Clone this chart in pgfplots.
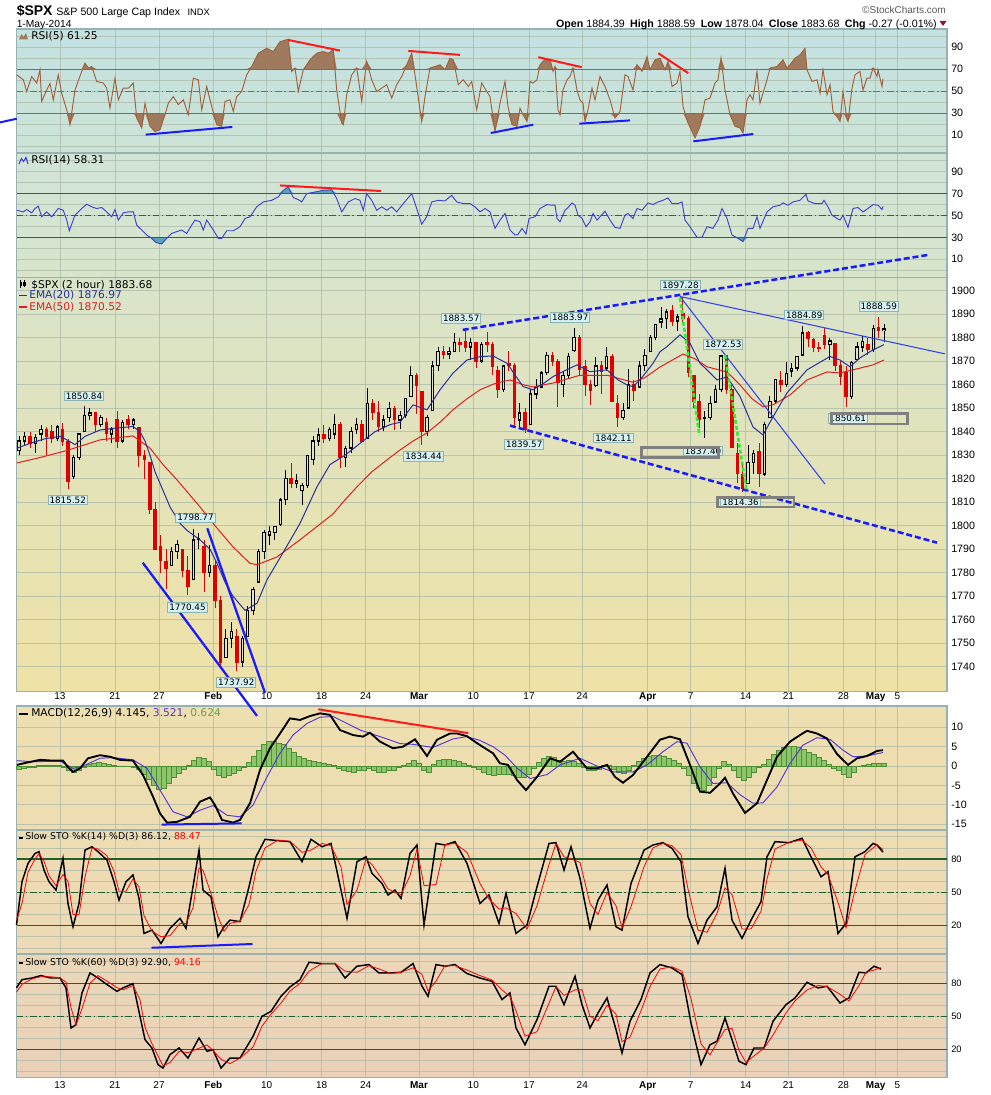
\documentclass[border=0pt]{standalone}
\usepackage{fontspec}
\setmainfont{Liberation Sans}
\newfontfamily\vf{DejaVu Sans}
\usepackage{pgfplots}
\usepackage{pgfplotstable}
\pgfplotsset{compat=1.18}

\definecolor{bordc}{HTML}{9AB1B1}
\definecolor{gridc}{HTML}{A9B8A6}
\definecolor{bgA1}{HTML}{C3E2E2}
\definecolor{bgA2}{HTML}{CDE3D6}
\definecolor{bgB1}{HTML}{D0E4D8}
\definecolor{bgB2}{HTML}{D8E5CB}
\definecolor{bgC1}{HTML}{D9E4CA}
\definecolor{bgC2}{HTML}{EFE2A6}
\definecolor{bgD1}{HTML}{EEDFB0}
\definecolor{bgD2}{HTML}{EDDDB1}
\definecolor{bgE1}{HTML}{EEDCB3}
\definecolor{bgE2}{HTML}{EDD9B5}
\definecolor{bgF1}{HTML}{ECD7B8}
\definecolor{bgF2}{HTML}{EAD1B8}
\definecolor{hollowc}{HTML}{E4E3BC}
\definecolor{rsibrown}{HTML}{A0603C}
\definecolor{rsifill}{HTML}{A07A5C}
\definecolor{rsiblue}{HTML}{4040D0}
\definecolor{rsi14fill}{HTML}{5AA5B5}
\definecolor{candlered}{HTML}{E00000}
\definecolor{ema20}{HTML}{2A2F9A}
\definecolor{ema50}{HTML}{E02020}
\definecolor{macdsig}{HTML}{5533DD}
\definecolor{histfill}{HTML}{8CC56A}
\definecolor{histline}{HTML}{4E8F35}
\definecolor{stogreen}{HTML}{1F5F2A}
\definecolor{annred}{HTML}{FF1A1A}
\definecolor{annblue}{HTML}{1A1AFF}
\definecolor{thinblue}{HTML}{3344EE}
\definecolor{labfill}{HTML}{D5F1F1}
\definecolor{labdraw}{HTML}{8AB3B3}
\definecolor{rectgray}{HTML}{7F7F7F}
\definecolor{dashgreen}{HTML}{33EE33}
\definecolor{chgc}{HTML}{8B1A3A}

\newcommand\tickf{\fontsize{8}{9}\selectfont}
\newcommand\datef{\fontsize{7.5}{9}\selectfont}
\newcommand\labf{\vf\fontsize{8}{9}\selectfont}
\newcommand\stof{\vf\fontsize{7}{8}\selectfont}

\tikzset{lab/.style={fill=labfill, draw=labdraw, line width=0.6pt, font=\vf\fontsize{6.6}{7}\selectfont, inner sep=1.1pt}}

\pgfplotsset{
  /pgf/number format/1000 sep={},
  /pgf/number format/assume math mode=true,
  panel/.style={
    scale only axis, width=697.875pt, anchor=north west,
    xmin=16.5, xmax=947,
    axis line style={draw=bordc, line width=1pt},
    xtick={60,115,159,213.3,266.7,321.7,365.7,419,473.3,529,582.3,647.7,690.7,745.7,788.3,843.3,875.7,897.3},
    xticklabels={},
    xmajorgrids, ymajorgrids, yminorgrids,
    grid style={draw=gridc, line width=0.55pt, opacity=0.7},
    minor grid style={draw=gridc, line width=0.55pt, opacity=0.7},
    major tick length=0pt, minor tick length=0pt,
    yticklabel pos=right,
    yticklabel style={font=\tickf, anchor=west, inner sep=1pt, xshift=2pt},
    clip=false,
  },
  datelabels/.style={
    xticklabels={13,21,27,\textbf{Feb},10,18,24,\textbf{Mar},10,17,24,\textbf{Apr},7,14,21,28,\textbf{May},5},
    xticklabel style={font=\datef, inner sep=0pt, yshift=#1},
  },
  ann/.style={forget plot, line width=1.5pt, #1},
}

% 2-hour candles, two per session: x in pixel units of the chart
\pgfplotstableread{
x o h l c
19.2 1832 1838 1830 1836
24.7 1836 1840 1834 1838
30.1 1838 1840 1833 1835
35.5 1835 1839 1831 1837.5
41.0 1839 1843 1836 1841
46.4 1841 1842 1830 1838
51.9 1840 1843 1835 1837
57.3 1837 1843 1836 1842
62.7 1841 1843.5 1834 1836
68.2 1836 1837 1815.5 1819
73.6 1821 1830 1820 1829
79.1 1829 1839 1828 1839
84.5 1840 1850.8 1840 1847
89.9 1847 1850 1845 1848
95.4 1848 1848 1840 1843
100.8 1843 1847 1842 1846
106.3 1844 1846 1836 1839
111.7 1839 1842 1835 1841
117.1 1845 1849 1833 1836
122.6 1836 1845 1835 1844
128.0 1845 1847 1841 1843
133.5 1843 1846 1841 1845
138.9 1842 1842 1825 1830
144.3 1830 1832 1820 1828
149.8 1827 1827 1805 1807
155.2 1807 1810 1790 1790
160.7 1791 1796 1780 1785
166.1 1785 1790 1773 1782
171.5 1783 1791 1783 1789
177.0 1789 1794 1786 1792
182.4 1790 1790 1778 1781
187.9 1781 1787 1770.5 1774
193.3 1777 1798.8 1777 1794
198.7 1794 1797 1790 1794.5
204.2 1791 1794 1772 1780
209.6 1780 1792 1778 1783
215.1 1783 1785 1765 1768
220.5 1768 1770 1740 1742
225.9 1744 1756 1744 1752
231.4 1752 1759 1748 1755
236.8 1753 1756 1738 1742
242.3 1742 1753 1740 1752
247.7 1753 1766 1753 1764
253.1 1764 1774 1762 1773
258.6 1776 1790 1776 1789
264.0 1789 1798 1786 1797
269.5 1796 1800 1792 1797.5
274.9 1797 1800 1794 1799.8
280.3 1800.5 1812 1800 1811
285.8 1811 1823.5 1809 1820
291.2 1820 1826.6 1816 1818
296.7 1818 1822 1815.9 1819
302.1 1815 1818 1809 1817
307.5 1817 1830 1816 1830
313.0 1828 1838 1826 1836
318.4 1836 1841.7 1834 1838.6
323.9 1839 1843 1835 1837
329.3 1837 1842 1836 1841
334.7 1839 1847.5 1837 1843
340.2 1843 1844 1824.6 1829
345.6 1829 1834 1825 1833
351.1 1833 1842 1831 1840
356.5 1841 1846 1839 1843
361.9 1843 1845 1835.6 1836
367.4 1837 1858.7 1837 1852
372.8 1852 1854 1845 1848
378.3 1848 1853 1840 1842
383.7 1842 1847 1840.2 1845
389.1 1846 1852.7 1844 1850
394.6 1850 1851 1840.7 1845
400.0 1845 1849 1841 1847
405.5 1847 1854.5 1846 1854
410.9 1855 1867.9 1855 1864
416.3 1864 1865 1847.7 1859.5
421.8 1857 1857 1834.4 1840
427.2 1840 1847 1838 1846
432.7 1849 1870 1849 1868
438.1 1868 1876 1866 1874
443.5 1874 1876.5 1871 1873
449.0 1873 1876 1871 1874
454.4 1874 1881.9 1874 1878
459.9 1878 1880 1874 1877
465.3 1878.5 1883.6 1874 1876
470.7 1876 1880 1870.6 1878
476.2 1878 1878 1867 1870
481.6 1870 1878 1869 1877
487.1 1878 1882.4 1874 1877
492.5 1877 1878 1863.9 1867.6
497.9 1866 1868 1854.4 1858
503.4 1858 1868.4 1857 1868
508.8 1869 1874.4 1866 1868
514.3 1868 1869 1841.9 1846
519.7 1845 1852.4 1842 1848
525.1 1848 1850 1839.6 1841
530.6 1843 1858 1843 1856
536.0 1856 1862.3 1854 1859
541.5 1859 1866 1858.9 1865
546.9 1865 1873.8 1864 1872.3
552.3 1872.3 1874.1 1868 1870
557.8 1870 1871 1850.4 1861
563.2 1860 1866 1854.6 1864
568.7 1864 1873.5 1863 1872
574.1 1874.5 1884 1874 1880
579.5 1880 1881 1863.5 1866.5
585.0 1867.7 1870.3 1855 1860
590.4 1860 1862 1851.4 1857.4
595.9 1859.5 1871.9 1859 1868
601.3 1868 1870 1856 1865.6
606.7 1867 1875.9 1866 1872
612.2 1872 1873 1852.6 1853
617.6 1852 1855.6 1842.1 1846
623.1 1846 1852 1845 1849
628.5 1850 1866.6 1850 1860
633.9 1860 1862 1853 1857.6
639.4 1859 1870 1859 1868
644.8 1868 1875.2 1866 1872.3
650.3 1874 1881 1874 1880
655.7 1880 1885.8 1879 1885.5
661.1 1886.6 1893.2 1884 1888
666.6 1888 1892 1883.8 1890.9
672.0 1891.4 1893.8 1885 1887
677.5 1887 1890 1882.7 1888.8
682.9 1890.3 1897.3 1886 1888
688.3 1888 1889 1863.3 1865
693.8 1864 1864 1850 1853
699.2 1853 1856 1841.5 1845
704.7 1845.5 1849 1837.5 1846
710.1 1846 1855 1845 1852
715.5 1852.6 1860 1852.4 1858
721.0 1858 1872.4 1857 1872.2
726.4 1872.3 1872.5 1856 1858
731.9 1858 1860 1832.9 1833.1
737.3 1830.7 1835 1818 1822
742.7 1822 1826 1814.4 1815.7
748.2 1818 1834.2 1818 1827
753.6 1827 1832 1822 1830.6
759.1 1831.5 1835 1816.3 1822
764.5 1822 1844 1821 1843
769.9 1846 1855 1846 1853
775.4 1853 1862.3 1852 1862.3
780.8 1861.7 1866 1856.7 1860
786.3 1860 1869.6 1859 1864.9
791.7 1865.8 1869 1863.2 1867
797.1 1867 1872 1866 1871.9
802.6 1872.6 1884.9 1872.6 1882
808.0 1882 1883 1876 1879.6
813.5 1879.3 1879.8 1874 1876
818.9 1876 1878 1873.9 1875.4
824.3 1881 1884 1875 1877
829.8 1877 1880 1870.3 1878.6
835.2 1877.7 1877.7 1866 1868
840.7 1868 1870 1859.7 1863.4
846.1 1865 1868 1850.6 1855
851.5 1855 1870 1854 1869.4
857.0 1870.8 1878 1870.8 1876
862.4 1876 1880.6 1874 1878.3
867.9 1877.1 1880 1872.7 1875
873.3 1875 1885.2 1874 1884
878.7 1884.4 1888.6 1880 1883
884.2 1883 1886 1878 1883.7
}\price

\pgfplotstableread{
x y
17 1833
30 1835
45 1837
60 1838
67 1836.5
75 1834.5
85 1838
100 1840.7
115 1841.5
133 1842.2
140 1840
145 1836
150 1830
155 1823
160 1818
170 1808
180 1801
187 1798
200 1794
210 1790
217 1784
225 1776
233 1770
245 1764
257 1767
267 1777
283 1788.5
300 1801
317 1816.6
330 1826
345 1830
360 1835
375 1840
390 1843
400 1844
413 1851.4
427 1849.3
440 1857.8
453 1864.9
467 1870.5
480 1871.9
493 1872.2
507 1869.1
523 1859.2
533 1857.8
545 1861
553 1863.4
565 1866
577 1868.4
590 1865.5
607 1866.3
618 1862
627 1859.9
633 1859.2
640 1862
653 1869.1
660 1874
667 1876.2
680 1881.2
690 1877.6
700 1869.1
707 1866.3
717 1862
727 1863.3
740 1855
753 1842
763 1838.6
773 1846.3
787 1856.5
807 1866.3
830 1872
840 1870.5
850 1867.6
860 1871.4
873 1874.8
884 1877
}\emaA

\pgfplotstableread{
x y
17 1826.7
40 1829
67 1832
100 1836.5
133 1838.2
150 1833
163 1826
177 1819.5
200 1808
215 1800
233 1791
250 1784
257 1783.4
277 1786.7
300 1794
333 1805
345 1811
358 1817
372 1823
387 1828
400 1832.2
413 1836
427 1839.5
440 1844
453 1849.3
467 1854
480 1857.8
495 1860.5
510 1862
523 1860
533 1859
553 1860.7
580 1864
607 1864
620 1862.5
633 1861
645 1863
660 1867.5
683 1873
695 1871
707 1867.6
727 1865.4
740 1859.9
752 1854
763 1850.6
773 1851.4
790 1855.6
807 1862
827 1865.4
840 1865
853 1866.3
873 1868.4
884 1870.5
}\emaB

\pgfplotstableread{
x y
16.7 64.8
23.3 60.3
26.7 49.7
31.7 63.3
36.7 57.3
40 69.4
41.7 40.6
46.7 51
50 57
53.3 42
58.3 64.8
61.7 48
66.7 33
70 19.4
75 51
81.7 68
85 75.5
88.3 71
91.7 72.4
96.7 58.8
103.3 57.3
106.7 52.7
110 34.5
115 61.8
118.3 42
123.3 52.7
128.3 52.7
133.3 57.3
136.7 25.5
141.7 16.4
145 39
150 17.9
155 13.3
160 14.8
165 28.5
168.3 39
173.3 45
178.3 37.6
183.3 42
188.3 28.5
193.3 61.8
198.3 60.3
201.7 33
206.7 54.2
211.7 36
216.7 19.4
221.7 17.9
225 40.6
230 42
233.3 31.5
236.7 45
241.7 49.7
246.7 64.8
251.7 72.4
258.3 84.5
266.7 89
273.3 86
280 95
288.3 97.3
291.7 67.9
295 71
298.3 49.7
303.3 69.4
310 78.5
316.7 84.5
323.3 86
328.3 84.5
333.3 87.6
336.7 51
341.7 21
343.3 19.4
346.7 46.7
351.7 64.8
356.7 71
361.7 40.6
366.7 77
371.7 60.3
376.7 49.7
381.7 52.7
386.7 55.8
391.7 43.6
396.7 55.8
401.7 63.3
406.7 74
411.7 84.5
415 64.8
420 33
421.7 22.4
425 45
430 71
435 72.4
440 74
445 69.4
450 80
453.3 78.5
458.3 55.8
463.3 60.3
468.3 54.2
471.7 58.8
476.7 33
481.7 57.3
486.7 49.7
490 45
495 13.3
500 39
505 58.8
508 36
512 19.4
517 17.9
520 34.5
523 28.5
527 22.4
530 58.8
533 57.3
537 60.3
540 74
545 79
550 79
553 68
555 72.4
558 33
560 28.5
563 51
567 60.3
570 63.3
573 71
577 51
580 42
583 39
585 22.4
588 33
592 52.7
595 42
600 63.3
605 54.2
610 42
615 25.5
620 31.5
625 64.8
628 63.3
633 51
637 74
642 68
647 81.5
650 69.4
655 78.5
660 80
665 69.4
668 77
672 54.2
677 57.3
680 68
683 36
688 21
695 7.3
700 17.9
705 42
710 43.6
715 57.3
718 60.3
721 80
725 51
730 28.5
735 17.9
740 16.4
743 11.8
747 42
750 46.7
753 42
757 68
760 39
763 48
767 60.3
770 71
777 72.4
783 78.5
787 71
790 74
795 80
800 83
805 89
807 69.4
812 58.8
817 60.3
820 48
823 69.4
827 46.7
830 55.8
833 31.5
838 25.5
840 22.4
843 49.7
847 24
848 22.4
852 52.7
855 64.8
860 68
863 51
867 61.8
870 61.8
873 71
877 63.3
878 69.4
882 54.2
883 61.25
}\rsiA

\pgfplotstableread{
x y
16.7 54.8
23.3 53.3
26.7 55.5
31.7 52.4
35 56.4
38.3 58.5
41.7 48.8
46.7 53.3
51.7 48.8
58.3 56.4
63.3 54.8
66.7 45.8
69.3 36
75 50.3
81.7 56.4
86.7 60.3
91.7 57.9
96.7 56.4
101.7 57.3
106.7 53.3
111.7 48.8
115 55.5
118.3 45.8
123.3 52.4
128.3 53.3
133.3 53.3
136.7 41.2
141.7 36.7
146.7 32.1
151.7 29.1
156 25.2
161.7 23.9
166.7 29.1
171.7 33.6
176.7 35.2
181.7 36.7
186.7 33.6
191.7 41.2
195 45.8
200 44.2
203.3 36.7
206.7 45.8
213.3 36.7
218.3 29.1
221.7 29.1
226.7 36
233.3 36
240 39.7
245 47.3
250 48.8
256.7 57.9
263.3 62.4
271.7 63.9
278.3 67
283.3 73
288.3 76
293.3 66.4
298.3 64.5
301.7 62.4
306.7 70
315 71.5
323.3 73
331.7 73.6
336.7 65.5
341.7 53.3
348.3 62.4
355 65.5
360 63.9
363.3 54.8
366.7 70
371.7 63.9
376.7 54.8
381.7 57.9
386.7 54.8
391.7 57.9
396.7 53.3
403.3 60.9
411.7 70
416.7 56.4
421.7 42.1
426.7 48.8
431.7 62.4
438.3 63.9
445 63.3
451.7 68.5
456.7 62.4
463.3 60.9
470 60.9
475 57.9
480 53.3
485 56.4
490 53.3
495 38.2
500 45.8
505 51.8
510 36.7
515 32.1
518 32.7
522 38.2
526 33
529 47.3
535 48.8
540 56.4
547 60
552 59.4
555 59.4
557 47.3
560 44.2
565 54.8
568 57.3
572 61.5
575 59.4
578 50.3
582 47.3
586 39.7
590 44.2
593 51.8
597 45.8
605 53.9
610 45.8
615 39.1
620 38.2
625 50.3
628 51.8
633 47.3
637 56.4
642 54.8
648 61.5
653 60
658 62.4
663 63.9
668 66.1
672 60.9
678 60.9
682 62.4
685 45.8
690 39.7
697 30
702 30
707 39.7
713 38.2
718 45.8
722 56.4
727 47.3
732 32.1
738 29.1
743 26.1
748 38.2
753 38.2
757 48.8
760 38.2
767 53.3
773 57.9
780 59.4
783 61.5
788 59.4
793 62.4
800 63.9
806 69.4
808 63.3
815 60.9
822 60.9
824 63.9
828 57.9
832 50.3
837 47.3
840 45.8
843 50.3
848 39.1
853 56.4
858 57.3
863 53.3
868 56.4
873 60
878 59.4
882 55.5
883 58.31
}\rsiB

\pgfplotstableread{
x y
17 0.3
27 0.9
40 1.6
53 1.4
63 1.4
68 -0.3
73 -1.5
80 -0.6
88 2.0
100 2.8
110 2.4
120 1.6
133 1.4
143 -2.3
153 -7.9
160 -12.2
167 -14.6
177 -14.4
190 -13.1
200 -9.2
210 -8.1
215 -10.1
222 -13.9
233 -14.6
240 -13.9
250 -9.6
260 -1.0
270 4.6
280 8.4
290 12.3
300 11.9
310 12.9
320 13.6
330 13.2
340 9.3
353 8.0
363 7.6
370 8.6
380 6.3
393 4.6
403 5.0
415 6.9
427 2.6
437 6.8
450 8.4
457 8.4
467 7.7
480 5.4
493 3.3
500 0.7
508 0.3
517 -3.6
526 -6.2
537 -2.8
550 2.0
560 1.1
573 3.7
587 -0.6
597 -0.6
607 0.3
615 -2.8
623 -4.3
633 -2.3
647 2.4
660 6.8
670 7.6
680 6.9
690 0.3
700 -6.6
710 -6.9
720 -4.5
725 -3.0
733 -7.1
745 -12.1
757 -9.6
767 -3.6
777 2.4
790 6.3
800 8.0
807 9.1
817 8.4
827 7.1
837 3.1
848 0.3
857 2.0
867 2.6
877 3.9
883 4.1
}\macd

\pgfplotstableread{
x y
17 1.4
33 1.1
60 1.3
73 -0.6
83 0.0
100 2.0
113 2.2
133 1.6
147 -0.6
160 -6.2
173 -11.8
187 -13.1
200 -11.4
213 -10.2
227 -12.7
240 -13.1
253 -10.1
267 -2.8
280 3.3
293 8.0
307 11.0
320 12.6
333 12.8
347 11.0
360 9.3
373 8.2
387 7.0
400 5.8
413 5.6
433 4.8
453 7.0
467 7.6
480 6.6
493 5.0
505 2.8
517 -0.5
530 -3.2
547 -2.2
560 0.3
580 2.0
597 0.0
613 -1.5
633 -1.5
647 0.3
663 3.7
677 6.3
687 5.9
700 -0.2
713 -4.5
727 -4.3
740 -7.4
753 -9.6
763 -9.5
777 -5.4
790 0.7
803 5.4
817 7.3
830 6.9
843 4.1
853 2.4
867 2.6
883 3.5
}\macdsig

\pgfplotstableread{
x y
19 -0.8
24 -0.6
29 -0.4
34 -0.2
39 0.1
44 0.2
49 0.2
54 0.1
59 0.1
64 -0.3
69 -1.0
74 -1.5
79 -1.2
84 -0.3
89 0.5
94 0.8
99 0.9
104 0.6
109 0.4
114 0.2
119 0.05
124 0.05
129 -0.1
134 -0.2
139 -0.8
144 -2.0
149 -3.5
154 -5.0
159 -6.0
164 -5.8
169 -4.5
174 -3.0
179 -1.8
184 -0.8
189 0.3
194 1.5
199 2.3
204 2.0
209 1.2
214 -0.8
219 -2.5
224 -3.0
229 -2.5
234 -1.8
239 -1.0
244 -0.2
249 1.0
254 2.5
259 4.0
264 5.5
269 6.3
274 6.3
279 6.0
284 5.5
289 4.5
294 3.5
299 2.5
304 2.0
309 1.5
314 1.2
319 1.0
324 0.8
329 0.5
334 0.2
339 -0.5
344 -1.0
349 -1.3
354 -1.5
359 -1.2
364 -1.0
369 -0.6
374 -1.2
379 -1.5
384 -1.5
389 -1.2
394 -1.0
399 -0.3
404 0.2
409 0.8
414 1.5
419 0.8
424 -1.0
429 -1.5
434 0.5
439 1.5
444 1.8
449 1.8
454 1.6
459 1.3
464 0.8
469 0.3
474 -0.2
479 -0.8
484 -1.5
489 -2.0
494 -2.3
499 -2.2
504 -2.0
509 -2.0
514 -2.5
519 -3.0
524 -3.0
529 -2.0
534 -0.5
539 1.0
544 2.0
549 2.4
554 2.3
559 1.5
564 1.2
569 1.5
574 1.3
579 0.6
584 -0.3
589 -1.0
594 -1.2
599 -0.8
604 0.2
609 0.3
614 -0.8
619 -1.5
624 -1.8
629 -1.2
634 0.2
639 1.2
644 2.0
649 2.5
654 2.8
659 2.8
664 2.6
669 2.0
674 1.4
679 0.8
684 -0.5
689 -2.5
694 -4.5
699 -5.8
704 -6.2
709 -5.0
714 -3.0
719 -0.5
724 1.2
729 0.5
734 -1.2
739 -2.8
744 -3.6
749 -3.0
754 -1.5
759 -0.3
764 0.5
769 1.8
774 3.0
779 4.0
784 4.8
789 5.0
794 5.0
799 4.8
804 4.3
809 3.6
814 3.0
819 2.3
824 1.5
829 0.5
834 -0.5
839 -1.2
844 -2.2
849 -3.0
854 -1.5
859 0.05
864 0.3
869 0.5
874 0.7
879 0.7
884 0.6
}\hist

\pgfplotstableread{
x k d
16.5 20.6 25
22 59.6 40
28 76 68
35 85 80
39 86.6 85
44 70 78
49 59.6 65
56 52 56
63 80.6 66
68 40 60
73 19 30
79 40 30
85 88 64
92 91 90
98 86.6 89
107 79 83
114 59.6 69
119 43 51
126 59.6 51
133 65.6 62
139 44.6 55
144 13 29
152 16 15
161 4 10
170 17.6 11
180 26.6 22
186 17.6 22
193 55 36
199 88 72
203 52 70
211 46 49
218 10 28
224 19 15
230 25 22
240 23.6 24
249 55 39
256 82 69
265 97.7 90
278 96.5 97
290 95.6 96
302 77.6 86
311 97.7 88
322 91 94
331 94 92
341 52 73
347 26.6 39
357 77.6 52
366 82 80
372 67 75
382 58 62
388 47.6 53
395 52 50
401 44.6 48
410 85 65
417 92.6 89
424 20.6 56
436 94 57
445 92.6 93
455 95.6 94
467 76 86
480 40 58
489 47.6 44
499 22 35
506 49 36
516 13 31
527 20.6 17
537 55 38
549 94 75
556 94.7 94
564 70 82
571 91 80
580 62.6 77
590 17.6 40
598 43 30
607 56.6 50
616 19 38
622 16 18
631 58 37
644 88 73
653 92.6 90
663 94.7 94
672 89.6 92
681 77.6 84
688 28 53
698 4 16
707 25 14
717 37 31
725 71.6 54
732 25 48
742 8.6 17
751 25 17
761 41.6 33
767 82 62
775 95.6 89
789 94.7 95
802 98.6 97
811 82 90
821 64 73
828 68.6 66
838 13 41
846 22 18
855 82 52
865 86.6 84
873 94 90
877 92.6 93
883 86.1 88.5
}\stoA

\pgfplotstableread{
x k d
16.5 75.8 72
22 83.3 79
32 84.8 84
41 87 86
50.5 84.8 86
60 84.8 85
66 75.8 81
71 39.4 58
76 42.4 42
82 71.2 57
90 89.4 80
98 84.8 87
107 78.8 82
117 72.7 76
123 75.8 74
133 79.7 78
140 50 65
145 28.8 40
152 21.2 25
158 6.1 14
163 3 5
170 15.2 8
179 21.2 18
188 12.1 17
199 30.3 21
207 18.2 24
213 19.7 19
221 3 11
230 12.1 7
240 12.1 12
253 31.8 22
262 50 41
271 54.5 52
281 68.2 62
290 76.7 73
300 83.3 80
309 99.1 91
322 97.9 98
335 97.9 98
345 84.8 91
357 95.5 90
369 97 96
379 89.4 93
391 89.4 89
401 90 90
413 97.9 94
422 77.3 88
428 68.2 73
436 97 82
445 95.5 96
455 97 96
467 88.8 92
480 84.8 87
492 81.8 83
502 65.2 74
510 71.2 68
516 39.4 55
525 24.2 32
537 47 36
549 77.3 62
556 77.3 77
564 60.6 69
575 86.4 74
582 60.6 74
590 39.4 50
598 53 46
607 66.7 60
616 37.9 52
622 16.7 27
630 45.5 31
641 65.2 55
650 89.4 77
660 97 93
672 93.9 95
682 87.9 91
691 43.9 66
701 6.1 25
710 24.2 15
717 27.3 26
725 48.5 38
732 28.8 39
739 9.1 19
746 6.1 8
754 21.2 14
764 21.2 21
773 45.5 33
786 60.6 53
795 66.7 64
807 80.9 74
818 75.8 78
827 77.3 77
840 62.1 70
849 66.7 64
859 90 78
866 89.4 90
874 95.5 92
881 92.9 94.2
}\stoB

\begin{document}
\begin{tikzpicture}
\fill[white] (0,0) rectangle (742.5pt,821.25pt);

% ---------- RSI(5)
\begin{axis}[panel, at={(12.375pt,799.5pt)}, height=93pt,
  ymin=-6.4, ymax=106.6, ytick={10,30,50,70,90}, minor ytick={0,20,40,60,80,100},
  axis background/.style={top color=bgA1, bottom color=bgA2}]
\addplot[fill=rsifill, draw=none, forget plot] table[x=x, y expr={max(\thisrow{y},70)}] {\rsiA} -- (axis cs:883,70) -- (axis cs:16.7,70) -- cycle;
\addplot[fill=rsifill, draw=none, forget plot] table[x=x, y expr={min(\thisrow{y},30)}] {\rsiA} -- (axis cs:883,30) -- (axis cs:16.7,30) -- cycle;
\addplot[rsibrown, line width=0.8pt, forget plot] coordinates {(16.5,70) (947,70)};
\addplot[rsibrown, line width=0.8pt, forget plot] coordinates {(16.5,30) (947,30)};
\addplot[rsibrown, line width=0.8pt, dash pattern=on 5pt off 2pt on 1.2pt off 2pt, forget plot] coordinates {(16.5,50) (947,50)};
\addplot[rsibrown, line width=0.7pt, forget plot] table {\rsiA};
\addplot[ann=annblue] coordinates {(0,21.5) (16.7,24.8)};
\addplot[ann=annblue] coordinates {(145.7,10.3) (232.3,17.3)};
\addplot[ann=annred] coordinates {(288.3,96.6) (340,86.9)};
\addplot[ann=annred] coordinates {(408.3,86.6) (460,83)};
\addplot[ann=annblue] coordinates {(490.7,11.8) (533.3,19.4)};
\addplot[ann=annred] coordinates {(538.3,80.9) (581.7,71.8)};
\addplot[ann=annblue] coordinates {(579.3,20.3) (630,23.3)};
\addplot[ann=annred] coordinates {(658.3,84.5) (688.3,66.4)};
\addplot[ann=annblue] coordinates {(693.3,4.2) (753.3,10.9)};
\end{axis}

% ---------- RSI(14)
\begin{axis}[panel, at={(12.375pt,706.5pt)}, height=93.5pt,
  ymin=-6.9, ymax=107.2, ytick={10,30,50,70,90}, minor ytick={0,20,40,60,80,100},
  axis background/.style={top color=bgB1, bottom color=bgB2}]
\addplot[fill=rsi14fill, draw=none, forget plot] table[x=x, y expr={max(\thisrow{y},70)}] {\rsiB} -- (axis cs:883,70) -- (axis cs:16.7,70) -- cycle;
\addplot[fill=rsi14fill, draw=none, forget plot] table[x=x, y expr={min(\thisrow{y},30)}] {\rsiB} -- (axis cs:883,30) -- (axis cs:16.7,30) -- cycle;
\addplot[rsiblue, line width=0.8pt, forget plot] coordinates {(16.5,70) (947,70)};
\addplot[rsiblue, line width=0.8pt, forget plot] coordinates {(16.5,30) (947,30)};
\addplot[rsiblue, line width=0.8pt, dash pattern=on 5pt off 2pt on 1.2pt off 2pt, forget plot] coordinates {(16.5,50) (947,50)};
\addplot[rsiblue, line width=0.7pt, forget plot] table {\rsiB};
\addplot[ann=annred] coordinates {(280,77.5) (381,72.4)};
\end{axis}

% ---------- MACD
\begin{axis}[panel, at={(12.375pt,291.75pt)}, height=93pt,
  ymin=-16.5, ymax=15.5, ytick={-15,-10,-5,0,5,10},
  axis background/.style={top color=bgD1, bottom color=bgD2}]
\addplot[ybar, bar width=3.75pt, fill=histfill, draw=histline, line width=0.4pt, forget plot] table {\hist};
\addplot[macdsig, line width=0.7pt, forget plot] table {\macdsig};
\addplot[black, line width=1.4pt, forget plot] table {\macd};
\addplot[ann=annred] coordinates {(318.3,14.65) (468.3,8.5)};
\addplot[ann=annblue] coordinates {(161.7,-15.1) (241.7,-14.8)};
\end{axis}

% ---------- Slow STO 14
\begin{axis}[panel, at={(12.375pt,198.75pt)}, height=93pt,
  ymin=-5.5, ymax=106.1, ytick={20,50,80}, minor ytick={0,10,30,40,60,70,90,100},
  yticklabel style={font=\fontsize{7}{8}\selectfont},
  axis background/.style={top color=bgE1, bottom color=bgE2}]
\addplot[stogreen, line width=0.9pt, forget plot] coordinates {(16.5,80) (947,80)};
\addplot[stogreen, line width=0.9pt, forget plot] coordinates {(16.5,20) (947,20)};
\addplot[stogreen, line width=0.9pt, dash pattern=on 5pt off 2pt on 1.2pt off 2pt, forget plot] coordinates {(16.5,50) (947,50)};
\addplot[black, line width=1.1pt, forget plot] table[x=x, y=k] {\stoA};
\addplot[red, line width=0.6pt, forget plot] table[x=x, y=d] {\stoA};
\addplot[ann=annblue] coordinates {(151.5,0.1) (252.5,3.5)};
\end{axis}

% ---------- Slow STO 60
\begin{axis}[panel, at={(12.375pt,105.75pt)}, height=92.8pt,
  ymin=-5.8, ymax=106.6, ytick={20,50,80}, minor ytick={0,10,30,40,60,70,90,100},
  yticklabel style={font=\fontsize{7}{8}\selectfont},
  datelabels=-2.6pt,
  axis background/.style={top color=bgF1, bottom color=bgF2}]
\addplot[stogreen, line width=0.9pt, forget plot] coordinates {(16.5,80) (947,80)};
\addplot[stogreen, line width=0.9pt, forget plot] coordinates {(16.5,20) (947,20)};
\addplot[stogreen, line width=0.9pt, dash pattern=on 5pt off 2pt on 1.2pt off 2pt, forget plot] coordinates {(16.5,50) (947,50)};
\addplot[black, line width=1.1pt, forget plot] table[x=x, y=k] {\stoB};
\addplot[red, line width=0.6pt, forget plot] table[x=x, y=d] {\stoB};
\end{axis}

% ---------- price panel
\begin{axis}[panel, at={(12.375pt,612.975pt)}, height=310.5pt,
  ymin=1729.4, ymax=1905.5, ytick={1740,1750,...,1900},
  datelabels=-0.3pt,
  axis background/.style={top color=bgC1, bottom color=bgC2}]
% wicks
\addplot[draw=none, mark=none, forget plot,
  restrict expr to domain={\thisrow{o}-\thisrow{c}}{0.0001:999},
  error bars/y dir=plus, error bars/y explicit, error bars/error mark=none,
  error bars/error bar style={line width=0.7pt, draw=candlered, solid}]
  table[x=x, y=l, y error plus expr=\thisrow{h}-\thisrow{l}] {\price};
\addplot[draw=none, mark=none, forget plot,
  restrict expr to domain={\thisrow{c}-\thisrow{o}}{0:999},
  error bars/y dir=plus, error bars/y explicit, error bars/error mark=none,
  error bars/error bar style={line width=0.7pt, draw=black, solid}]
  table[x=x, y=l, y error plus expr=\thisrow{h}-\thisrow{l}] {\price};
% red filled bodies
\addplot[draw=none, mark=none, forget plot,
  restrict expr to domain={\thisrow{o}-\thisrow{c}}{0.0001:999},
  error bars/y dir=plus, error bars/y explicit, error bars/error mark=none,
  error bars/error bar style={line width=2.6pt, draw=candlered, solid}]
  table[x=x, y expr=\thisrow{c}-0.2, y error plus expr=\thisrow{o}-\thisrow{c}+0.4] {\price};
% hollow black bodies
\addplot[draw=none, mark=none, forget plot,
  restrict expr to domain={\thisrow{c}-\thisrow{o}}{0:999},
  error bars/y dir=plus, error bars/y explicit, error bars/error mark=none,
  error bars/error bar style={line width=2.6pt, draw=black, solid}]
  table[x=x, y expr=\thisrow{o}-0.25, y error plus expr=\thisrow{c}-\thisrow{o}+0.5] {\price};
\addplot[draw=none, mark=none, forget plot,
  restrict expr to domain={\thisrow{c}-\thisrow{o}}{0:999},
  error bars/y dir=plus, error bars/y explicit, error bars/error mark=none,
  error bars/error bar style={line width=1.1pt, draw=hollowc, solid}]
  table[x=x, y expr=\thisrow{o}+0.3, y error plus expr={max(\thisrow{c}-\thisrow{o}-0.6,0)}] {\price};
% moving averages
\addplot[ema50, line width=0.75pt, forget plot] table {\emaB};
\addplot[ema20, line width=0.75pt, forget plot] table {\emaA};
% trend lines
\addplot[ann=annblue, line width=1.9pt, dash pattern=on 4.5pt off 2.2pt] coordinates {(462.7,1883.3) (928.3,1915.2)};
\addplot[ann=annblue, line width=1.9pt, dash pattern=on 4.5pt off 2.2pt] coordinates {(510,1842.6) (937,1792.8)};
\addplot[ann=thinblue, line width=0.8pt] coordinates {(680,1897.5) (945,1873.1)};
\addplot[ann=thinblue, line width=0.8pt] coordinates {(680,1897.5) (825,1817.7)};
\addplot[ann=dashgreen, line width=2pt, dash pattern=on 3pt off 1.5pt] coordinates {(680,1896.8) (699.3,1838.6)};
\addplot[ann=dashgreen, line width=2pt, dash pattern=on 3pt off 1.5pt] coordinates {(725,1872.7) (746.7,1814.5)};
\addplot[ann=annblue, line width=1.7pt] coordinates {(142.7,1784.3) (257,1719.1)};
\addplot[ann=annblue, line width=1.7pt] coordinates {(207.3,1798.9) (265,1728.9)};
% value labels
\node[lab] at (axis cs:84,1855.2) {1850.84};
\node[lab] at (axis cs:67.7,1811.0) {1815.52};
\node[lab] at (axis cs:195.5,1803.4) {1798.77};
\node[lab] at (axis cs:187.5,1765.2) {1770.45};
\node[lab] at (axis cs:236.2,1733.3) {1737.92};
\node[lab] at (axis cs:423.5,1829.6) {1834.44};
\node[lab] at (axis cs:461.2,1888.1) {1883.57};
\node[lab] at (axis cs:524.2,1834.7) {1839.57};
\node[lab] at (axis cs:570.2,1888.5) {1883.97};
\node[lab] at (axis cs:613.5,1837.3) {1842.11};
\node[lab] at (axis cs:680.5,1902.4) {1897.28};
\node[lab] at (axis cs:723.2,1877.2) {1872.53};
\node[lab] at (axis cs:703,1831.8) {1837.40};
\node[lab] at (axis cs:740.5,1809.8) {1814.36};
\node[lab] at (axis cs:804.2,1889.7) {1884.89};
\node[lab] at (axis cs:847.8,1845.6) {1850.61};
\node[lab] at (axis cs:878.8,1893.2) {1888.59};
\draw[rectgray, line width=2pt] (axis cs:641.7,1833.2) rectangle (axis cs:718.3,1828.9);
\draw[rectgray, line width=2pt] (axis cs:717.7,1812.1) rectangle (axis cs:794,1807.9);
\draw[rectgray, line width=2pt] (axis cs:831.7,1847.6) rectangle (axis cs:907.7,1843.3);
\end{axis}

% ---------- titles and panel legends (pixel grid, y up)
\begin{scope}[x=0.75pt, y=0.75pt]
\node[anchor=base west, inner sep=0] at (16.5,1079.5) {{\fontsize{10.5}{12}\selectfont\bfseries \$SPX} {\fontsize{8}{10}\selectfont S\&P 500 Large Cap Index}\ \ {\fontsize{7}{9}\selectfont INDX}};
\node[anchor=base west, inner sep=0] at (16.5,1067) {\fontsize{7.7}{9}\selectfont 1-May-2014};
\node[anchor=base east, inner sep=0, text=black!65] at (946,1081) {\fontsize{7.5}{9}\selectfont \textcopyright StockCharts.com};
\node[anchor=base east, inner sep=0] at (937,1067.5) {\fontsize{8}{10}\selectfont \textbf{Open} 1884.39\enspace\textbf{High} 1888.59\enspace\textbf{Low} 1878.04\enspace\textbf{Close} 1883.68\enspace\textbf{Chg} -0.27 (-0.01\%)};
\fill[chgc] (939.5,1074) -- (946.5,1074) -- (943,1069) -- cycle;

\fill[rsifill] (19,1055.5) -- (21.5,1061) -- (23.5,1058) -- (26,1062) -- (28,1055.5) -- cycle;
\node[anchor=base west, inner sep=0] at (31,1055.5) {\labf RSI(5) 61.25};
\draw[rsiblue, line width=0.8pt] (19,931) -- (21.5,936.5) -- (23.5,933.5) -- (26,937.5) -- (28,931);
\node[anchor=base west, inner sep=0] at (31,931) {\labf RSI(14) 58.31};
\draw[black, line width=0.7pt] (20.5,807) -- (20.5,815) (24.5,808) -- (24.5,814.5);
\fill[black] (19.5,809) rectangle (21.5,813);
\draw[black, line width=0.5pt] (23.5,809.5) rectangle (25.5,813);
\node[anchor=base west, inner sep=0] at (31,806.7) {\labf \$SPX (2 hour) 1883.68};
\draw[ema20, line width=1.4pt] (19,799.5) -- (27,799.5);
\node[anchor=base west, inner sep=0] at (29,796.5) {\labf\color{ema20} EMA(20) 1876.97};
\draw[ema50, line width=1.4pt] (19,788) -- (27,788);
\node[anchor=base west, inner sep=0] at (29,784.5) {\labf\color{ema50} EMA(50) 1870.52};
\draw[black, line width=1.5pt] (19,381) -- (28,381);
\node[anchor=base west, inner sep=0] at (31,378) {\labf MACD(12,26,9) 4.145, {\color{macdsig}3.521}, {\color{histfill!80!black}0.624}};
\draw[black, line width=1.4pt] (19,257) -- (23,257);
\node[anchor=base west, inner sep=0] at (25,255) {\stof Slow STO \%K(14) \%D(3) 86.12, {\color{red}88.47}};
\draw[black, line width=1.4pt] (19,132) -- (23,132);
\node[anchor=base west, inner sep=0] at (25,129.5) {\stof Slow STO \%K(60) \%D(3) 92.90, {\color{red}94.16}};
\end{scope}
\pgfresetboundingbox
\path[use as bounding box] (0,0) rectangle (742.5pt,821.25pt);
\end{tikzpicture}
\end{document}
